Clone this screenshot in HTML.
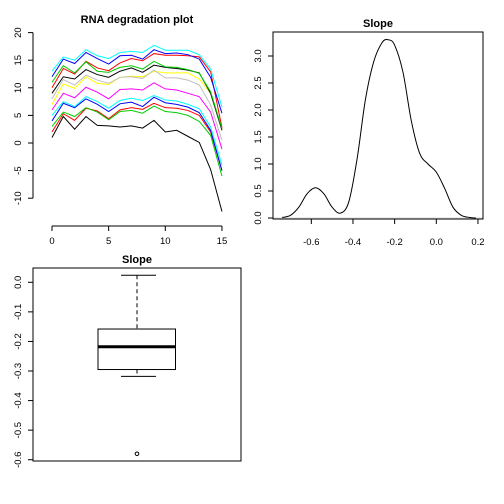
<!DOCTYPE html>
<html><head><meta charset="utf-8"><style>
body{margin:0;background:#fff}
svg{display:block;font-family:"Liberation Sans",Arial,sans-serif}
</style></head><body>
<svg id="s" width="504" height="504" xmlns="http://www.w3.org/2000/svg">
<g id="p1"></g>
<g id="p2"></g>
<g id="p3"></g>
</svg>
<script>
const NS="http://www.w3.org/2000/svg";
// ---- data ----
const degX=[0,1,2,3,4,5,6,7,8,9,10,11,12,13,14,15];
const degColors=["black","red","#00cd00","blue","cyan","magenta","yellow","#bebebe","black","red","#00cd00","blue","cyan"];
const degSeries=[
[1,4.8,2.5,4.8,3.2,3.1,2.9,3.1,2.7,4.1,2.0,2.3,1.2,0.1,-4.8,-12.4],
[2,5.3,4.1,6.3,5.8,4.4,6.0,6.4,6.1,7.2,6.4,6.3,5.9,5.0,2.0,-5.0],
[3,5.6,4.8,6.4,5.6,4.2,5.7,5.9,5.4,6.7,5.7,5.5,5.0,3.9,1.4,-6.0],
[4,7.2,6.4,8.0,7.0,5.7,7.1,7.4,6.6,8.3,7.3,7.0,6.5,5.5,2.3,-5.0],
[5,7.5,6.6,8.4,7.5,6.3,7.7,8.1,7.7,8.6,7.8,7.6,7.0,6.2,2.9,-4.0],
[6,9.0,8.2,10.1,9.2,8.0,9.7,9.8,9.6,10.9,9.8,9.6,9.0,8.4,5.6,-1.1],
[7,10.7,9.9,12.0,10.8,10.6,11.9,12.1,12.0,13.0,12.7,12.7,12.7,11.6,9.0,2.5],
[8,11.5,10.5,12.3,11.4,10.8,11.9,12.0,11.7,13.2,11.8,11.8,11.4,10.5,6.9,0.5],
[9,12.0,11.6,13.3,12.4,11.9,13.0,13.6,12.8,14.1,13.7,13.5,13.2,12.7,9.0,2.3],
[10,13.5,12.5,14.8,13.6,13.1,14.5,15.3,14.9,16.2,15.9,15.9,15.8,15.6,12.9,2.8],
[11,14.0,12.7,14.7,13.0,12.8,13.7,14.0,13.4,14.8,13.8,13.7,13.3,12.6,9.3,2.6],
[12,15.2,14.4,16.4,15.3,14.3,15.8,15.9,15.2,16.9,16.2,16.3,16.0,15.2,11.9,5.4],
[13,15.6,15.0,16.9,15.8,15.3,16.4,16.6,16.4,17.7,16.8,16.8,16.8,16.0,13.4,6.5]];
const degYTicks=[-10,-5,0,5,10,15,20];
const degXTicks=[0,5,10,15];
const densX=[-0.74,-0.70,-0.66,-0.62,-0.58,-0.54,-0.50,-0.46,-0.42,-0.38,-0.34,-0.30,-0.26,-0.23,-0.20,-0.16,-0.12,-0.08,-0.04,0.00,0.04,0.08,0.12,0.16,0.19];
const densY=[0.01,0.05,0.2,0.45,0.56,0.45,0.2,0.09,0.3,1.1,2.2,2.9,3.25,3.3,3.2,2.7,1.8,1.2,1.0,0.85,0.55,0.2,0.05,0.01,0.0];
const densXTicks=["-0.6","-0.4","-0.2","0.0","0.2"];
const densYTicks=["0.0","0.5","1.0","1.5","2.0","2.5","3.0"];
const boxStats=[0.024,-0.158,-0.218,-0.295,-0.318]; // upper whisker, Q3, median, Q1, lower whisker
const boxOutliers=[-0.58];
const boxYTicks=["0.0","-0.1","-0.2","-0.3","-0.4","-0.5","-0.6"];

function el(p,t,a,txt){const e=document.createElementNS(NS,t);for(const k in a)e.setAttribute(k,a[k]);if(txt!==undefined)e.textContent=txt;p.appendChild(e);return e;}
function ylab(g,x,y,t){const e=el(g,"text",{x:x,y:y,transform:`rotate(-90 ${x} ${y})`,"text-anchor":"middle","font-size":"9.5",fill:"#000"},t);}
function xlab(g,x,y,t){const e=el(g,"text",{x:x,y:y,"text-anchor":"middle","font-size":"9.5",fill:"#000"},t);}
function title(g,x,y,t){const e=el(g,"text",{x:x,y:y,"text-anchor":"middle","font-size":"11","font-weight":"bold"},t);}

// ---- panel 1 ----
(function(){
const g=document.getElementById("p1");
const X=v=>52+v*11.33, Y=v=>143-v*5.52;
title(g,137,23,"RNA degradation plot");
let a=el(g,"line",{x1:33,y1:Y(-10),x2:33,y2:Y(20),stroke:"#000"});

degYTicks.forEach(t=>{el(g,"line",{x1:28,x2:33,y1:Y(t),y2:Y(t),stroke:"#000"});ylab(g,21,Y(t),String(t));});
a=el(g,"line",{x1:X(0),y1:226,x2:X(15),y2:226,stroke:"#000"});

degXTicks.forEach(t=>{el(g,"line",{x1:X(t),x2:X(t),y1:226,y2:231,stroke:"#000"});xlab(g,X(t),244,String(t));});
degSeries.forEach((s,i)=>{
 const p=el(g,"polyline",{points:s.map((v,j)=>X(degX[j])+","+Y(v)).join(" "),fill:"none",stroke:degColors[i],"stroke-width":"1"});
 
 
});
})();

// ---- panel 2 ----
(function(){
const g=document.getElementById("p2");
const X=v=>436.3+v*208.3, Y=v=>218-v*54;
title(g,378,27,"Slope");
el(g,"line",{x1:273,x2:483,y1:Y(0),y2:Y(0),stroke:"#ddd"});
const f=el(g,"rect",{x:273,y:32,width:210,height:187,fill:"none",stroke:"#000"});

densYTicks.forEach(t=>{const v=+t;el(g,"line",{x1:268,x2:273,y1:Y(v),y2:Y(v),stroke:"#000"});ylab(g,261,Y(v),t);});
densXTicks.forEach(t=>{const v=+t;el(g,"line",{x1:X(v),x2:X(v),y1:219,y2:224,stroke:"#000"});xlab(g,X(v),245,t);});
const P=densX.map((v,i)=>[X(v),Y(densY[i])]);
let d="M"+P[0][0]+","+P[0][1];
for(let i=0;i<P.length-1;i++){
 const p0=P[Math.max(0,i-1)],p1=P[i],p2=P[i+1],p3=P[Math.min(P.length-1,i+2)];
 const c1=[p1[0]+(p2[0]-p0[0])/6,p1[1]+(p2[1]-p0[1])/6];
 const c2=[p2[0]-(p3[0]-p1[0])/6,p2[1]-(p3[1]-p1[1])/6];
 d+=` C${c1[0]},${c1[1]} ${c2[0]},${c2[1]} ${p2[0]},${p2[1]}`;
}
const p=el(g,"path",{d:d,fill:"none",stroke:"#000"});

})();

// ---- panel 3 ----
(function(){
const g=document.getElementById("p3");
const Y=v=>282.3-v*295.7, cx=137;
title(g,137,263,"Slope");
const f=el(g,"rect",{x:33,y:268,width:208,height:193,fill:"none",stroke:"#000"});

boxYTicks.forEach(t=>{const v=+t;el(g,"line",{x1:28,x2:33,y1:Y(v),y2:Y(v),stroke:"#000"});ylab(g,21,Y(v),t);});
const [hi,q3,md,q1,lo]=boxStats;
el(g,"line",{x1:cx,x2:cx,y1:Y(hi),y2:Y(q3),stroke:"#000","stroke-dasharray":"4,3"});
el(g,"line",{x1:cx,x2:cx,y1:Y(q1),y2:Y(lo),stroke:"#000","stroke-dasharray":"4,3"});
el(g,"line",{x1:121,x2:156,y1:Y(hi),y2:Y(hi),stroke:"#000"});
el(g,"line",{x1:121,x2:156,y1:Y(lo),y2:Y(lo),stroke:"#000"});
const b=el(g,"rect",{x:98,y:Y(q3),width:77.5,height:Y(q1)-Y(q3),fill:"#fff",stroke:"#000"});

const m=el(g,"line",{x1:98,x2:175.5,y1:Y(md),y2:Y(md),stroke:"#000","stroke-width":"3"});

boxOutliers.forEach(o=>{const c=el(g,"circle",{cx:cx,cy:Y(o),r:1.8,fill:"none",stroke:"#000"});

});
})();
</script>
</body></html>
